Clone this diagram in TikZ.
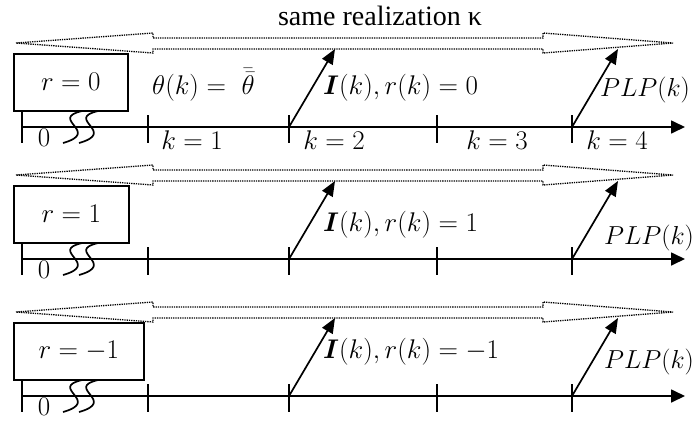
\RequirePackage{fix-cm}
\documentclass[tikz,border=0pt]{standalone}
\usepackage{bm}
\usepackage{fontspec}
\newfontfamily\titlefont{Liberation Serif}
\usetikzlibrary{arrows.meta}
\begin{document}
\begin{tikzpicture}[x=1pt,y=-1pt,
  dotarrow/.style={densely dotted, line width=1.3pt},
  axisline/.style={line width=1.7pt,-{Triangle[length=14pt,width=13pt]}},
  tickline/.style={line width=1.7pt},
  eventarrow/.style={line width=1.7pt,-{Triangle[length=15pt,width=12pt]}},
  rbox/.style={draw,line width=1.5pt,inner sep=0pt,anchor=north west,minimum height=57pt,font=\fontsize{27}{31}\selectfont},
  lbl/.style={inner sep=0pt,font=\fontsize{27}{31}\selectfont},
  plplbl/.style={inner sep=0pt,anchor=west,font=\fontsize{26}{30}\selectfont},
]
\useasboundingbox (0,0) rectangle (696,421);
\node[inner sep=0pt,font=\titlefont\fontsize{28}{32}\selectfont] (title) at (380,16) {same realization κ};
\foreach \rw/\A/\bw/\rv/\Iy/\Px/\Py in {1/43/114/0/45/600/47, 2/175/115/1/50/604/63, 3/312/130/-1/40/604/50}{
  % dotted double arrow
  \draw[dotarrow] (16,\A) -- (153,\A-10) -- (153,\A-5) -- (543,\A-5) -- (543,\A-10) -- (673,\A)
     -- (543,\A+10) -- (543,\A+6) -- (153,\A+6) -- (153,\A+10) -- cycle;
  % box
  \node[rbox,minimum width=\bw pt] (box\rw) at (13,\A+10) {$r = \rv$};
  % axis
  \coordinate (t\rw0) at (22,\A+84);
  \coordinate (t\rw1) at (148,\A+84);
  \coordinate (t\rw2) at (289,\A+84);
  \coordinate (t\rw3) at (437,\A+84);
  \coordinate (t\rw4) at (572,\A+84);
  \coordinate (end\rw) at (685,\A+84);
  \draw[axisline] (t\rw0) -- (end\rw);
  \draw[tickline] (box\rw.south -| t\rw0) -- ([yshift=-16pt]t\rw0);
  \foreach \k in {1,2,3,4}{
    \draw[tickline] ([yshift=12pt]t\rw\k) -- ([yshift=-16pt]t\rw\k);
  }
  % squiggles
  \draw[tickline] (82,\A+68) .. controls (48,\A+76) and (102,\A+89) .. (63,\A+100);
  \draw[tickline] (98,\A+68) .. controls (64,\A+76) and (118,\A+89) .. (79,\A+100);
  \node[lbl] (zero\rw) at (44,\A+95) {$0$};
  % event arrows
  \coordinate (i\rw) at (335,\A+6);
  \coordinate (p\rw) at (618,\A+6);
  \draw[eventarrow] (t\rw2) -- (i\rw);
  \draw[eventarrow] (t\rw4) -- (p\rw);
  \node[lbl,anchor=west] (I\rw) at (323,\A+\Iy) {$\bm{I}(k), r(k) = \rv$};
  \node[plplbl] (plp\rw) at (\Px,\A+\Py) {$PLP(k)$};
}
\node[lbl,anchor=west] (theta) at (152,85) {$\theta(k) = \ \bar{\bar{\theta}}$};
\node[lbl] (k1) at (192,140) {$k = 1$};
\node[lbl] (k2) at (334,140) {$k = 2$};
\node[lbl] (k3) at (497,140) {$k = 3$};
\node[lbl] (k4) at (617,140) {$k = 4$};
\end{tikzpicture}
\end{document}
